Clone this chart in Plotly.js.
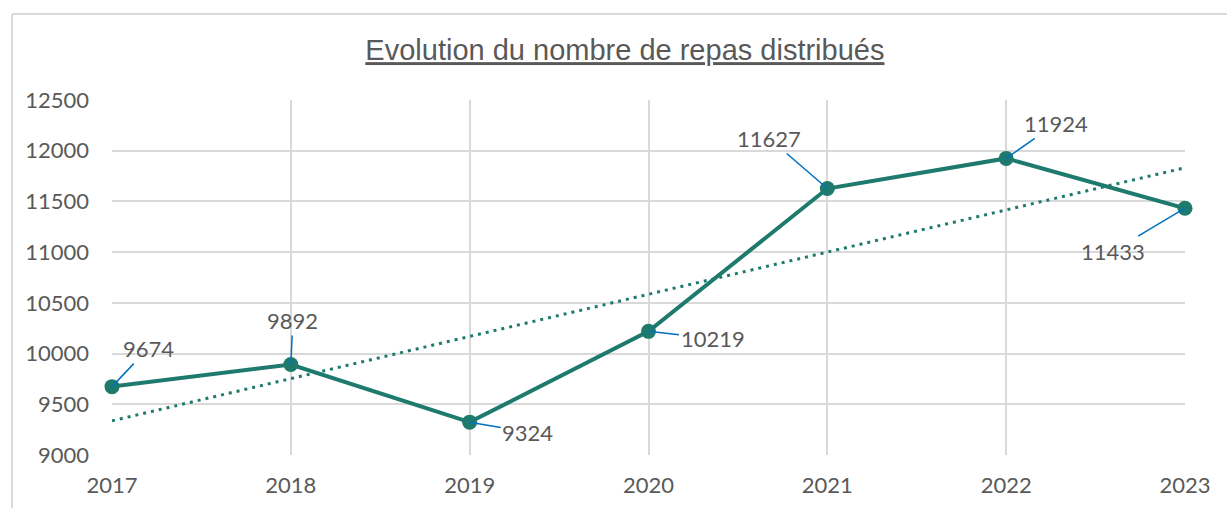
<!DOCTYPE html>
<html>
<head>
<meta charset="utf-8">
<script src="https://cdn.plot.ly/plotly-3.0.1.min.js"></script>
<style>
html,body{margin:0;padding:0;background:#fff;}
#chart{width:1227px;height:508px;}
</style>
</head>
<body>
<div id="chart"></div>
<script>
const years = [2017, 2018, 2019, 2020, 2021, 2022, 2023];
const meals = [9674, 9892, 9324, 10219, 11627, 11924, 11433];
const yTicks = [9000, 9500, 10000, 10500, 11000, 11500, 12000, 12500];
const titleText = "Evolution du nombre de repas distribués";
// label offsets (pixels) for the data labels
const labelAx = [36, 2, 58, 64, -58, 50, -72];
const labelAy = [-38, -44, 10, 7, -50, -35, 43];

// linear trend line (least squares) from the data
const n = years.length;
const mx = years.reduce((a, b) => a + b, 0) / n;
const my = meals.reduce((a, b) => a + b, 0) / n;
let sxy = 0, sxx = 0;
for (let i = 0; i < n; i++) { sxy += (years[i] - mx) * (meals[i] - my); sxx += (years[i] - mx) ** 2; }
const slope = sxy / sxx;
const trend = years.map(x => my + slope * (x - mx));

const teal = "#1F7A6E";
const grey = "#595959";
const grid = "#D9D9D9";
const font = "Lato, 'Open Sans', sans-serif";

const traces = [
  {
    x: years, y: trend, mode: "lines", type: "scatter",
    line: {color: teal, width: 3, dash: "3px,5px"},
    hoverinfo: "skip", showlegend: false, cliponaxis: false
  },
  {
    x: years, y: meals, mode: "lines+markers", type: "scatter",
    line: {color: teal, width: 4},
    marker: {color: teal, size: 15},
    showlegend: false, cliponaxis: false
  }
];

const annotations = years.map((yr, i) => ({
  x: yr, y: meals[i], xref: "x", yref: "y",
  text: String(meals[i]),
  showarrow: true, arrowhead: 0, arrowwidth: 1.5, arrowcolor: "#0070C0",
  ax: labelAx[i], ay: labelAy[i], standoff: 0, startstandoff: 0,
  font: {family: font, size: 22, color: grey}
}));

const layout = {
  width: 1227, height: 508,
  margin: {l: 112, r: 42, t: 100, b: 53},
  paper_bgcolor: "#fff", plot_bgcolor: "#fff",
  title: {
    text: titleText,
    x: 0.478, xref: "paper", xanchor: "center",
    y: 52, yref: "container", yanchor: "middle",
    font: {family: "'Liberation Sans', Arial, sans-serif", size: 29, color: grey, lineposition: "under"}
  },
  xaxis: {
    range: [2017, 2023], tickvals: years, ticktext: years.map(String),
    showgrid: true, gridcolor: grid, gridwidth: 2, zeroline: false,
    showline: false, ticks: "", ticklabelstandoff: 15,
    tickfont: {family: font, size: 22, color: grey}, fixedrange: true
  },
  yaxis: {
    range: [9000, 12500], tickvals: yTicks, ticktext: yTicks.map(String),
    showgrid: true, gridcolor: grid, gridwidth: 2, zeroline: false,
    showline: false, ticks: "", ticklabelstandoff: 22,
    tickfont: {family: font, size: 22, color: grey}, fixedrange: true
  },
  annotations: annotations,
  shapes: [
    {type: "line", xref: "paper", yref: "paper", x0: -0.0932, x1: 1.04, y0: 1.242, y1: 1.242, line: {color: grid, width: 2}},
    {type: "line", xref: "paper", yref: "paper", x0: -0.0932, x1: -0.0932, y0: 1.242, y1: -0.16, line: {color: grid, width: 2}}
  ],
  hovermode: false
};

Plotly.newPlot("chart", traces, layout, {displayModeBar: false, staticPlot: true});
</script>
</body>
</html>
